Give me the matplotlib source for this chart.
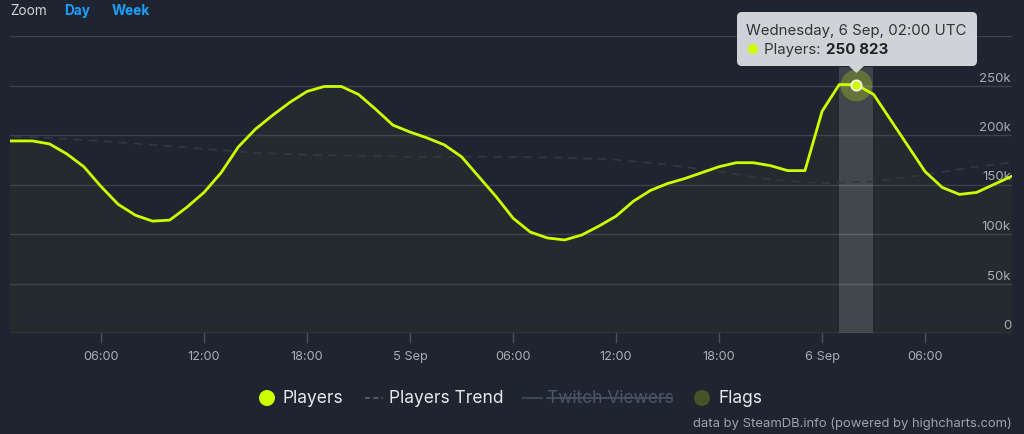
import matplotlib.pyplot as plt
import numpy as np
from matplotlib.patches import FancyBboxPatch, Polygon, Circle
from matplotlib.lines import Line2D

plt.rcParams['font.family'] = ['Inter', 'DejaVu Sans']

# hours since 4 Sep 00:00 UTC
hours = list(range(0, 60))
players = [194000, 194000, 194000, 191000, 181000, 168000, 148000, 130000, 119000, 113000, 114000,
           127000, 142000, 162000, 188000, 206000, 220000, 233000, 244000, 249000, 249000,
           241000, 226000, 210000, 203000, 197000, 190000, 178000, 158000, 138000, 116000,
           102000, 96000, 94000, 99000, 108000, 118000, 133000, 144000, 151000, 156000,
           162000, 168000, 172000, 172000, 169000, 164000, 164000, 224000, 251000, 250823,
           241000, 215000, 189000, 163000, 147000, 140000, 142000, 150000, 158000]

trend_hours = [0, 3, 6, 9, 12, 15, 18, 21, 24, 27, 30, 33, 36, 39, 42, 45, 48, 51, 54, 57, 60]
trend = [199000, 197000, 194000, 190000, 186000, 182000, 180000, 179000, 178000, 178000,
         178000, 177000, 175000, 170000, 163000, 155000, 151000, 153000, 160000, 168000, 174000]

tick_hours = [6, 12, 18, 24, 30, 36, 42, 48, 54]
tick_labels = ['06:00', '12:00', '18:00', '5 Sep', '06:00', '12:00', '18:00', '6 Sep', '06:00']
y_ticks = [0, 50000, 100000, 150000, 200000, 250000]
y_labels = ['0', '50k', '100k', '150k', '200k', '250k']

hover_hour = 50
hover_value = 250823

BG = '#1e2531'
GRID = '#3a414c'
LIME = '#ccff00'
TXT = '#a9adb3'

W, H = 1024, 435
fig = plt.figure(figsize=(W / 100, H / 100), dpi=100, facecolor=BG)
ax = fig.add_axes([10 / W, (H - 334) / H, 1002 / W, 297 / H])
ax.set_facecolor(BG)
ax.set_xlim(0.70, 59.06)
ax.set_ylim(0, 300000)

for v in y_ticks + [300000]:
    if v > 0:
        ax.axhline(v, color=GRID, lw=1, zorder=1)
ax.axhline(0, color='#4a515c', lw=1, zorder=1)

# hover band
ax.axvspan(hover_hour - 1.0, hover_hour + 0.95, ymin=0, ymax=0.895, color='#ffffff', alpha=0.14, lw=0, zorder=2)

ax.fill_between(hours, players, 0, color=LIME, alpha=0.03, lw=0, zorder=2)
ax.plot(trend_hours, trend, color='#303844', lw=1.2, ls=(0, (5, 4)), zorder=3)
ax.plot(hours, players, color=LIME, lw=2, zorder=4, solid_joinstyle='round')

# hovered point
ax.scatter([hover_hour], [hover_value], s=520, color=LIME, alpha=0.25, lw=0, zorder=5)
ax.scatter([hover_hour], [hover_value], s=55, color=LIME, edgecolors='white', linewidths=1.2, zorder=6)

ax.set_xticks([])
ax.set_yticks([])
for s in ax.spines.values():
    s.set_visible(False)

for v, lab in zip(y_ticks, y_labels):
    ax.annotate(lab, (1, v), xycoords=('axes fraction', 'data'), xytext=(-1, 8),
                textcoords='offset pixels', ha='right', va='center', color=TXT, fontsize=9.5)
for hx, lab in zip(tick_hours, tick_labels):
    ax.plot([hx, hx], [0, -9 * 300000 / 297], color='#4a515c', lw=1, clip_on=False)
    ax.annotate(lab, (hx, 0), xycoords='data', xytext=(0, -17), textcoords='offset pixels',
                ha='center', va='top', color=TXT, fontsize=9.2)

# overlay in pixel coordinates (top-left origin)
ov = fig.add_axes([0, 0, 1, 1], zorder=10)
ov.set_xlim(0, W)
ov.set_ylim(H, 0)
ov.axis('off')
ov.patch.set_alpha(0)

fig.canvas.draw()
px, py = ax.transData.transform((hover_hour, hover_value))
py = H - py

# tooltip
tb = FancyBboxPatch((737, 13), 240, 54, boxstyle='round,pad=0,rounding_size=5',
                    fc='#d6d9dd', ec='none', alpha=0.97, zorder=11)
ov.add_patch(tb)
ov.add_patch(Polygon([[px - 8, 66.5], [px + 8, 66.5], [px, 74]], closed=True,
                     fc='#d6d9dd', ec='none', alpha=0.97, zorder=11))
ov.text(746, 31, 'Wednesday, 6 Sep, 02:00 UTC', color='#333333', fontsize=10.8,
        va='center', ha='left', zorder=12)
ov.add_patch(Circle((753, 50), 5, fc=LIME, ec='none', zorder=12))
ov.text(764, 50, 'Players: ', color='#333333', fontsize=10.8, va='center', ha='left', zorder=12)
ov.text(826, 50, '250 823', color='#222222', fontsize=10.9, fontweight='bold',
        va='center', ha='left', zorder=12)

# zoom buttons
ov.text(10, 11, 'Zoom', color='#d0d3d8', fontsize=9.8, va='center', ha='left')
ov.text(64, 11, 'Day', color='#1a9fff', fontsize=9.8, fontweight='bold', va='center', ha='left')
ov.text(112, 11, 'Week', color='#1a9fff', fontsize=9.8, fontweight='bold', va='center', ha='left')

# legend
ly = 399
ov.add_patch(Circle((267, ly), 8, fc=LIME, ec='none'))
ov.text(283, ly, 'Players', color='#e6e8ea', fontsize=12.5, va='center', ha='left')
ov.add_line(Line2D([365, 383], [ly, ly], color='#5a6370', lw=1.2, ls=(0, (3, 2))))
ov.text(389, ly, 'Players Trend', color='#e6e8ea', fontsize=12.5, va='center', ha='left')
ov.add_line(Line2D([523, 542], [ly, ly], color='#3c4654', lw=1.5))
ov.text(547, ly, 'Twitch Viewers', color='#4a5566', fontsize=12.5, va='center', ha='left')
ov.add_line(Line2D([547, 672], [ly, ly], color='#4a5566', lw=1.2))
ov.add_patch(Circle((702, ly), 8, fc='#465227', ec='none'))
ov.text(719, ly, 'Flags', color='#e6e8ea', fontsize=12.5, va='center', ha='left')

ov.text(1012, 424, 'data by SteamDB.info (powered by highcharts.com)', color='#9ea3aa',
        fontsize=9.4, va='center', ha='right')

fig.savefig('out.png', dpi=100, facecolor=BG)
